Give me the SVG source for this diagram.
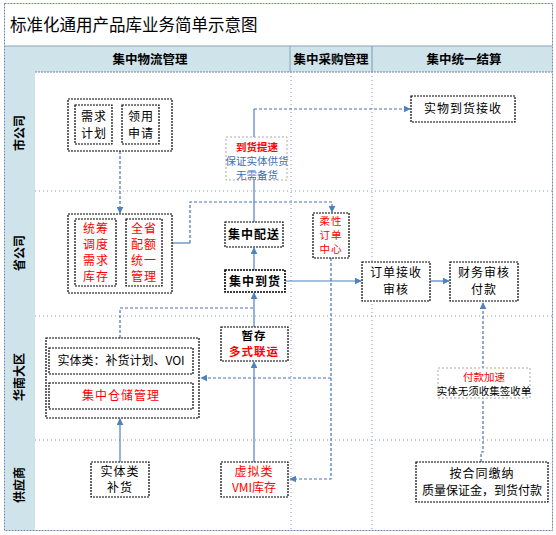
<svg xmlns="http://www.w3.org/2000/svg" width="556" height="535" viewBox="0 0 556 535">
<style>
text{font-family:"Noto Sans CJK SC","Liberation Sans",sans-serif;font-size:12px;fill:#000;}
.title{font-size:16.5px;}
.hd{font-weight:bold;font-size:12.5px;text-anchor:middle;}
.lane{font-weight:bold;font-size:12px;text-anchor:middle;}
.t{text-anchor:middle;letter-spacing:1px;}
.s{font-size:10.5px;letter-spacing:0;}
.red{fill:#ff0000;}
.blue{fill:#3d6db5;}
.box{fill:#fff;stroke:#000;stroke-width:1.2;stroke-dasharray:2,1;}
.lbl{fill:#fff;stroke:#aaa;stroke-width:1;stroke-dasharray:2,2;}
.sep{stroke:#7a98bd;stroke-width:1;stroke-dasharray:1,3;fill:none;}
.c{stroke:#4f81bd;stroke-width:1.2;fill:none;}
.cd{stroke:#4a72b5;stroke-width:1.2;fill:none;stroke-dasharray:3,2;}
</style>
<defs>
<marker id="ah" viewBox="0 0 10 10" refX="9" refY="5" markerWidth="7" markerHeight="7" orient="auto" markerUnits="userSpaceOnUse">
<path d="M0,0 L10,5 L0,10 z" fill="#4f81bd"/>
</marker>
</defs>
<rect x="0" y="0" width="556" height="535" fill="#fff"/>
<g id="frame">
<rect x="4.5" y="3.5" width="548" height="527" fill="none" stroke="#6b86a8" stroke-width="1" stroke-dasharray="2,1"/>
<rect x="5" y="46" width="547" height="26" fill="#cfe3eb"/>
<rect x="5" y="72" width="30" height="458" fill="#cfe3eb"/>
<line x1="5" y1="46" x2="552" y2="46" stroke="#8aa2c0" stroke-width="1"/>
<line x1="35" y1="72" x2="552" y2="72" stroke="#6b86a8" stroke-dasharray="2,1"/>
<line x1="290" y1="46" x2="290" y2="72" stroke="#8aa2c0"/>
<line x1="372" y1="46" x2="372" y2="72" stroke="#7f97b5"/>
<text class="title" x="10" y="31">标准化通用产品库业务简单示意图</text>
<text class="hd" x="150" y="64">集中物流管理</text>
<text class="hd" x="331" y="64">集中采购管理</text>
<text class="hd" x="464" y="64">集中统一结算</text>
<line class="sep" x1="35" y1="191" x2="552" y2="191"/>
<line class="sep" x1="35" y1="316" x2="552" y2="316"/>
<line class="sep" x1="35" y1="440" x2="552" y2="440"/>
<line class="sep" x1="291" y1="72" x2="291" y2="530"/>
<line class="sep" x1="372" y1="72" x2="372" y2="530"/>
<text class="lane" transform="rotate(-90 20 133)" x="20" y="137">市公司</text>
<text class="lane" transform="rotate(-90 20 253)" x="20" y="257">省公司</text>
<text class="lane" transform="rotate(-90 20 377)" x="20" y="381">华南大区</text>
<text class="lane" transform="rotate(-90 20 485)" x="20" y="489">供应商</text>
</g>
<g id="connectors">
<path class="cd" d="M120,151 V213" marker-end="url(#ah)"/>
<path class="c" d="M116,252 H125" marker-end="url(#ah)"/>
<path class="c" d="M162,243 H190"/>
<path class="cd" d="M190,243 V202 H332 V212" marker-end="url(#ah)"/>
<path class="c" d="M254,270 V248" marker-end="url(#ah)"/>
<path class="c" d="M254,222 V109"/>
<path class="cd" d="M254,109 H410" marker-end="url(#ah)"/>
<path class="c" d="M285,281 H361" marker-end="url(#ah)"/>
<path class="c" d="M430,281 H449" marker-end="url(#ah)"/>
<path class="cd" d="M331,258 V479 H290" marker-end="url(#ah)"/>
<path class="cd" d="M331,378 H201" marker-end="url(#ah)"/>
<path class="c" d="M254,462 V362" marker-end="url(#ah)"/>
<path class="c" d="M254,327 V293" marker-end="url(#ah)"/>
<path class="cd" d="M120,338 V308 H254"/>
<path class="c" d="M120,462 V419" marker-end="url(#ah)"/>
<path class="cd" d="M481,462 V452 H483 V303" marker-end="url(#ah)"/>
</g>
<g id="label-daohuo">
<rect class="lbl" x="226" y="137" width="61" height="43"/>
<text class="t s red" x="257" y="151" style="font-weight:bold">到货提速</text>
<text class="t s blue" x="257" y="165">保证实体供货</text>
<text class="t s blue" x="257" y="179">无需备货</text>
</g>
<g id="label-fukuan">
<rect class="lbl" x="438" y="368" width="92" height="30"/>
<text class="t s red" x="484" y="381">付款加速</text>
<text class="t s" x="484" y="395">实体无须收集签收单</text>
</g>
<g id="node-shi">
<rect class="box" x="68" y="99" width="104" height="52"/>
<rect class="box" x="75" y="105" width="37" height="39"/>
<rect class="box" x="122" y="105" width="37" height="39"/>
<text class="t" x="94" y="121">需求</text>
<text class="t" x="94" y="138">计划</text>
<text class="t" x="141" y="121">领用</text>
<text class="t" x="141" y="138">申请</text>
</g>
<g id="node-sheng">
<rect class="box" x="68" y="214" width="104" height="79"/>
<rect class="box" x="75" y="219" width="41" height="67"/>
<rect class="box" x="126" y="219" width="36" height="67"/>
<text class="t red" x="96" y="233">统筹</text>
<text class="t red" x="96" y="249">调度</text>
<text class="t red" x="96" y="265">需求</text>
<text class="t red" x="96" y="281">库存</text>
<text class="t red" x="144" y="233">全省</text>
<text class="t red" x="144" y="249">配额</text>
<text class="t red" x="144" y="265">统一</text>
<text class="t red" x="144" y="281">管理</text>
</g>
<g id="node-shiwu">
<rect class="box" x="411" y="96" width="104" height="26"/>
<text class="t" x="463" y="113">实物到货接收</text>
</g>
<g id="node-peisong">
<rect class="box" x="225" y="222" width="58" height="25"/>
<text class="t" x="254" y="239" style="font-weight:bold">集中配送</text>
</g>
<g id="node-daohuo">
<rect class="box" x="225" y="270" width="60" height="22" style="stroke-width:1.6"/>
<text class="t" x="255" y="286" style="font-weight:bold">集中到货</text>
</g>
<g id="node-rouxing">
<rect class="box" x="313" y="213" width="36" height="45"/>
<text class="t s red" x="331" y="225" style="letter-spacing:1px">柔性</text>
<text class="t s red" x="331" y="239" style="letter-spacing:1px">订单</text>
<text class="t s red" x="331" y="253" style="letter-spacing:1px">中心</text>
</g>
<g id="node-dingdan">
<rect class="box" x="362" y="262" width="68" height="39"/>
<text class="t" x="396" y="277">订单接收</text>
<text class="t" x="396" y="294">审核</text>
</g>
<g id="node-caiwu">
<rect class="box" x="450" y="262" width="68" height="39"/>
<text class="t" x="484" y="277">财务审核</text>
<text class="t" x="484" y="294">付款</text>
</g>
<g id="node-zancun">
<rect class="box" x="221" y="327" width="67" height="34"/>
<text class="t" x="254" y="340" style="font-weight:bold;font-size:11.5px">暂存</text>
<text class="t red" x="254" y="356" style="font-weight:bold;font-size:11.5px">多式联运</text>
</g>
<g id="node-huanan">
<rect class="box" x="46" y="338" width="153" height="80"/>
<rect class="box" x="49" y="348" width="144" height="26"/>
<rect class="box" x="49" y="383" width="144" height="26"/>
<text class="t" x="121" y="365" style="letter-spacing:0">实体类：补货计划、VOI</text>
<text class="t red" x="121" y="400">集中仓储管理</text>
</g>
<g id="node-buhuo">
<rect class="box" x="91" y="462" width="58" height="35"/>
<text class="t" x="120" y="476">实体类</text>
<text class="t" x="120" y="492">补货</text>
</g>
<g id="node-vmi">
<rect class="box" x="221" y="462" width="67" height="35"/>
<text class="t red" x="254" y="476">虚拟类</text>
<text class="t red" x="254" y="492" style="letter-spacing:0">VMI库存</text>
</g>
<g id="node-hetong">
<rect class="box" x="416" y="462" width="132" height="40"/>
<text class="t" x="482" y="478">按合同缴纳</text>
<text class="t" x="482" y="495" style="letter-spacing:0">质量保证金，到货付款</text>
</g>
</svg>
